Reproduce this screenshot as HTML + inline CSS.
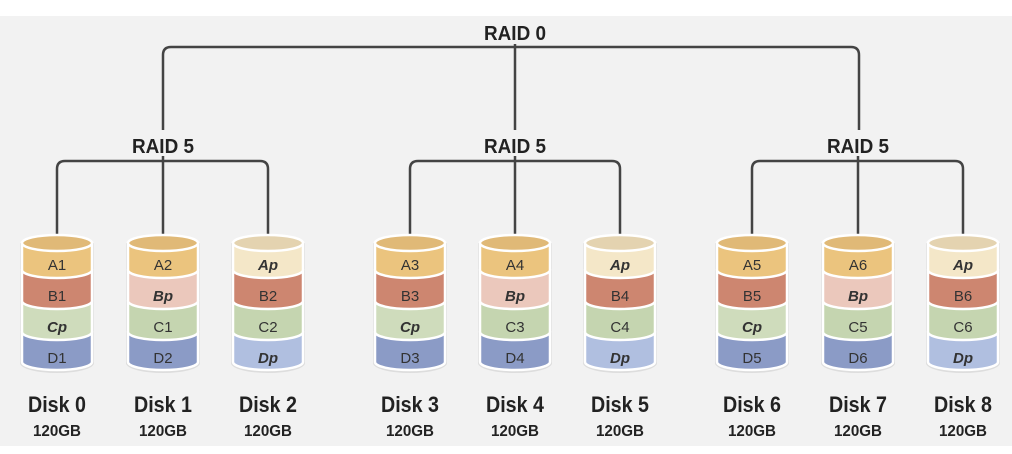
<!DOCTYPE html>
<html><head><style>html,body{margin:0;padding:0;background:#fff}svg{display:block}</style></head>
<body>
<svg width="1012" height="454" viewBox="0 0 1012 454" xmlns="http://www.w3.org/2000/svg" font-family="Liberation Sans, sans-serif">
<defs>
<path id="sA" d="M-35,243 L-35,270 A35,8 0 0 0 35,270 L35,243 Z"/>
<path id="sB" d="M-35,270 L-35,301 A35,8 0 0 0 35,301 L35,270 Z"/>
<path id="sC" d="M-35,301 L-35,332 A35,8 0 0 0 35,332 L35,301 Z"/>
<path id="sD" d="M-35,332 L-35,362 A35,8 0 0 0 35,362 L35,332 Z"/>
<path id="sh" d="M-37,243 L-37,363 A37,10 0 0 0 37,363 L37,243 Z"/>
</defs>
<rect x="0" y="16" width="1012" height="430" fill="#f2f2f2"/>
<g fill="none" stroke="#444" stroke-width="2.5">
<path d="M163,130 L163,55 Q163,47 171,47 L851,47 Q859,47 859,55 L859,130"/>
<path d="M515,44 L515,130"/>
<path d="M57,237 L57,169 Q57,161 65,161 L260,161 Q268,161 268,169 L268,237 M163,156 L163,237"/>
<path d="M410,237 L410,169 Q410,161 418,161 L612,161 Q620,161 620,169 L620,237 M515,156 L515,237"/>
<path d="M752,237 L752,169 Q752,161 760,161 L955,161 Q963,161 963,169 L963,237 M858,156 L858,237"/>
</g>
<g font-weight="bold" fill="#222" font-size="20" text-anchor="middle">
<text x="515" y="40" textLength="62" lengthAdjust="spacingAndGlyphs">RAID 0</text>
<text x="163" y="153" textLength="62" lengthAdjust="spacingAndGlyphs">RAID 5</text>
<text x="515" y="153" textLength="62" lengthAdjust="spacingAndGlyphs">RAID 5</text>
<text x="858" y="153" textLength="62" lengthAdjust="spacingAndGlyphs">RAID 5</text>
</g>

<g stroke="#fff" stroke-width="2.5">
<g transform="translate(57,0)">
<use href="#sh" fill="#ddd" stroke="none"/>
<use href="#sD" fill="#8b9bc6"/><use href="#sC" fill="#cfdcbc"/><use href="#sB" fill="#cd8670"/><use href="#sA" fill="#ebc47e"/>
<ellipse cx="0" cy="243" rx="35" ry="8" fill="#e0b977"/>
</g>
<g transform="translate(163,0)">
<use href="#sh" fill="#ddd" stroke="none"/>
<use href="#sD" fill="#8b9bc6"/><use href="#sC" fill="#c5d5b0"/><use href="#sB" fill="#ebc8bc"/><use href="#sA" fill="#ebc47e"/>
<ellipse cx="0" cy="243" rx="35" ry="8" fill="#e0b977"/>
</g>
<g transform="translate(268,0)">
<use href="#sh" fill="#ddd" stroke="none"/>
<use href="#sD" fill="#b0bfe0"/><use href="#sC" fill="#c5d5b0"/><use href="#sB" fill="#cd8670"/><use href="#sA" fill="#f4e7c8"/>
<ellipse cx="0" cy="243" rx="35" ry="8" fill="#e4d3b0"/>
</g>
<g transform="translate(410,0)">
<use href="#sh" fill="#ddd" stroke="none"/>
<use href="#sD" fill="#8b9bc6"/><use href="#sC" fill="#cfdcbc"/><use href="#sB" fill="#cd8670"/><use href="#sA" fill="#ebc47e"/>
<ellipse cx="0" cy="243" rx="35" ry="8" fill="#e0b977"/>
</g>
<g transform="translate(515,0)">
<use href="#sh" fill="#ddd" stroke="none"/>
<use href="#sD" fill="#8b9bc6"/><use href="#sC" fill="#c5d5b0"/><use href="#sB" fill="#ebc8bc"/><use href="#sA" fill="#ebc47e"/>
<ellipse cx="0" cy="243" rx="35" ry="8" fill="#e0b977"/>
</g>
<g transform="translate(620,0)">
<use href="#sh" fill="#ddd" stroke="none"/>
<use href="#sD" fill="#b0bfe0"/><use href="#sC" fill="#c5d5b0"/><use href="#sB" fill="#cd8670"/><use href="#sA" fill="#f4e7c8"/>
<ellipse cx="0" cy="243" rx="35" ry="8" fill="#e4d3b0"/>
</g>
<g transform="translate(752,0)">
<use href="#sh" fill="#ddd" stroke="none"/>
<use href="#sD" fill="#8b9bc6"/><use href="#sC" fill="#cfdcbc"/><use href="#sB" fill="#cd8670"/><use href="#sA" fill="#ebc47e"/>
<ellipse cx="0" cy="243" rx="35" ry="8" fill="#e0b977"/>
</g>
<g transform="translate(858,0)">
<use href="#sh" fill="#ddd" stroke="none"/>
<use href="#sD" fill="#8b9bc6"/><use href="#sC" fill="#c5d5b0"/><use href="#sB" fill="#ebc8bc"/><use href="#sA" fill="#ebc47e"/>
<ellipse cx="0" cy="243" rx="35" ry="8" fill="#e0b977"/>
</g>
<g transform="translate(963,0)">
<use href="#sh" fill="#ddd" stroke="none"/>
<use href="#sD" fill="#b0bfe0"/><use href="#sC" fill="#c5d5b0"/><use href="#sB" fill="#cd8670"/><use href="#sA" fill="#f4e7c8"/>
<ellipse cx="0" cy="243" rx="35" ry="8" fill="#e4d3b0"/>
</g>
</g>

<g font-size="15" fill="#333" text-anchor="middle">
<text x="57" y="270">A1</text><text x="57" y="301">B1</text><text x="57" y="332" font-style="italic" font-weight="bold">Cp</text><text x="57" y="363">D1</text>
<text x="163" y="270">A2</text><text x="163" y="301" font-style="italic" font-weight="bold">Bp</text><text x="163" y="332">C1</text><text x="163" y="363">D2</text>
<text x="268" y="270" font-style="italic" font-weight="bold">Ap</text><text x="268" y="301">B2</text><text x="268" y="332">C2</text><text x="268" y="363" font-style="italic" font-weight="bold">Dp</text>
<text x="410" y="270">A3</text><text x="410" y="301">B3</text><text x="410" y="332" font-style="italic" font-weight="bold">Cp</text><text x="410" y="363">D3</text>
<text x="515" y="270">A4</text><text x="515" y="301" font-style="italic" font-weight="bold">Bp</text><text x="515" y="332">C3</text><text x="515" y="363">D4</text>
<text x="620" y="270" font-style="italic" font-weight="bold">Ap</text><text x="620" y="301">B4</text><text x="620" y="332">C4</text><text x="620" y="363" font-style="italic" font-weight="bold">Dp</text>
<text x="752" y="270">A5</text><text x="752" y="301">B5</text><text x="752" y="332" font-style="italic" font-weight="bold">Cp</text><text x="752" y="363">D5</text>
<text x="858" y="270">A6</text><text x="858" y="301" font-style="italic" font-weight="bold">Bp</text><text x="858" y="332">C5</text><text x="858" y="363">D6</text>
<text x="963" y="270" font-style="italic" font-weight="bold">Ap</text><text x="963" y="301">B6</text><text x="963" y="332">C6</text><text x="963" y="363" font-style="italic" font-weight="bold">Dp</text>
</g>

<g fill="#222" text-anchor="middle" font-weight="bold">
<g font-size="22">
<text x="57" y="412" textLength="58" lengthAdjust="spacingAndGlyphs">Disk 0</text><text x="163" y="412" textLength="58" lengthAdjust="spacingAndGlyphs">Disk 1</text><text x="268" y="412" textLength="58" lengthAdjust="spacingAndGlyphs">Disk 2</text>
<text x="410" y="412" textLength="58" lengthAdjust="spacingAndGlyphs">Disk 3</text><text x="515" y="412" textLength="58" lengthAdjust="spacingAndGlyphs">Disk 4</text><text x="620" y="412" textLength="58" lengthAdjust="spacingAndGlyphs">Disk 5</text>
<text x="752" y="412" textLength="58" lengthAdjust="spacingAndGlyphs">Disk 6</text><text x="858" y="412" textLength="58" lengthAdjust="spacingAndGlyphs">Disk 7</text><text x="963" y="412" textLength="58" lengthAdjust="spacingAndGlyphs">Disk 8</text>
</g>
<g font-size="16">
<text x="57" y="436" textLength="48" lengthAdjust="spacingAndGlyphs">120GB</text><text x="163" y="436" textLength="48" lengthAdjust="spacingAndGlyphs">120GB</text><text x="268" y="436" textLength="48" lengthAdjust="spacingAndGlyphs">120GB</text>
<text x="410" y="436" textLength="48" lengthAdjust="spacingAndGlyphs">120GB</text><text x="515" y="436" textLength="48" lengthAdjust="spacingAndGlyphs">120GB</text><text x="620" y="436" textLength="48" lengthAdjust="spacingAndGlyphs">120GB</text>
<text x="752" y="436" textLength="48" lengthAdjust="spacingAndGlyphs">120GB</text><text x="858" y="436" textLength="48" lengthAdjust="spacingAndGlyphs">120GB</text><text x="963" y="436" textLength="48" lengthAdjust="spacingAndGlyphs">120GB</text>
</g>
</g>
</svg>
</body></html>
